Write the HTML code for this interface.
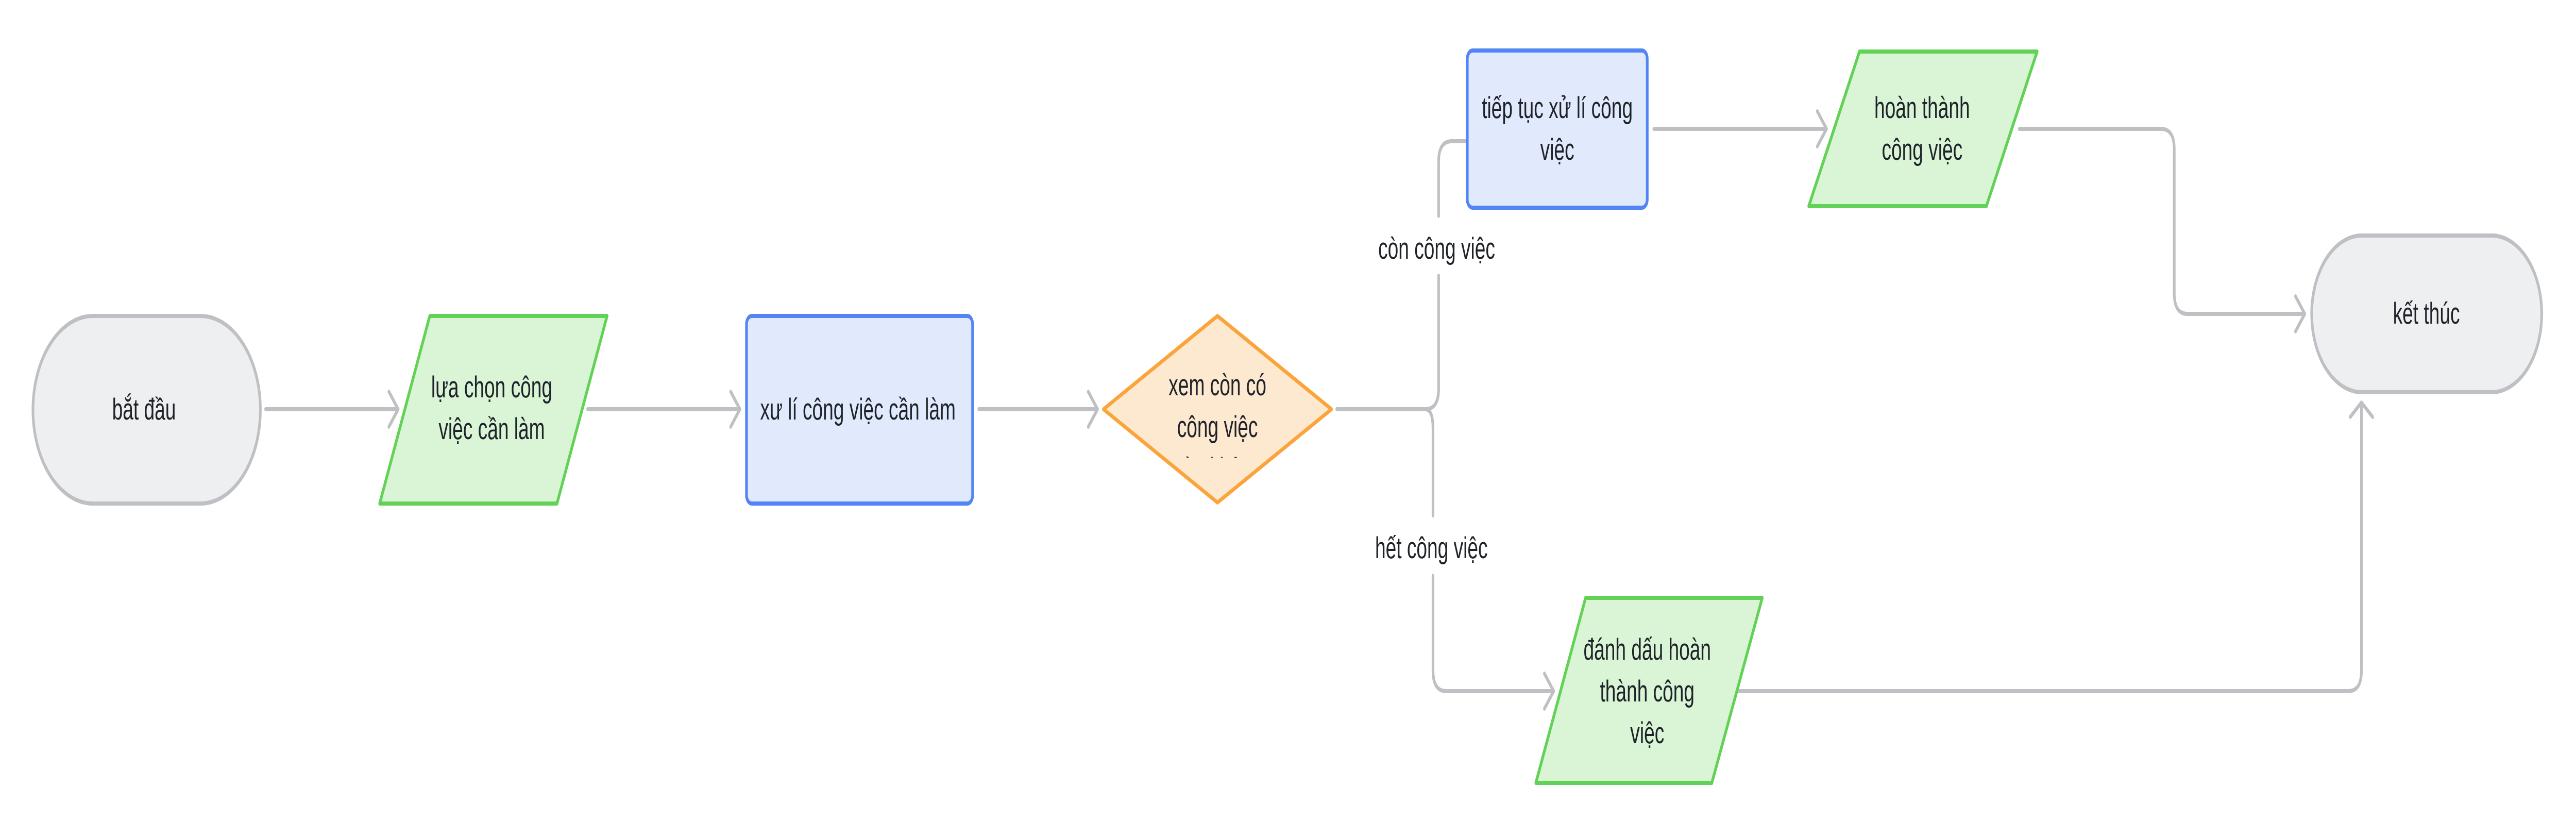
<!DOCTYPE html>
<html><head><meta charset="utf-8"><style>
html,body{margin:0;padding:0;background:#fff;width:100%;height:100%;overflow:hidden}
svg{display:block;width:100vw;height:100vh}
text{font-family:"Liberation Sans",sans-serif;font-size:58px;fill:#1f2329;text-anchor:middle}
</style></head><body>
<svg viewBox="0 0 7816 1624" preserveAspectRatio="none" xmlns="http://www.w3.org/2000/svg">
<defs><clipPath id="dc"><rect x="3348" y="600" width="700" height="288"/></clipPath></defs>
<g fill="none" stroke="#bec0c4" stroke-width="8" stroke-linecap="round" stroke-linejoin="round">
<line x1="806" y1="794" x2="1206" y2="794"/><polyline points="1180,760 1208,794 1180,828"/>
<line x1="1783" y1="794" x2="2243" y2="794"/><polyline points="2217,760 2245,794 2217,828"/>
<line x1="2970" y1="794" x2="3328" y2="794"/><polyline points="3302,760 3330,794 3302,828"/>
<path d="M4056 794 H4325 Q4365 794 4365 754 V535"/>
<path d="M4365 419 V314 Q4365 274 4405 274 H4448"/>
<path d="M4325 794 Q4348 794 4348 834 V1000"/>
<path d="M4348 1117 V1301 Q4348 1341 4388 1341 H4712"/><polyline points="4686,1307 4714,1341 4686,1375"/>
<line x1="5018" y1="250" x2="5540" y2="250"/><polyline points="5514,216 5542,250 5514,284"/>
<path d="M6127 250 H6557 Q6597 250 6597 290 V569 Q6597 609 6637 609 H6991"/><polyline points="6965,575 6993,609 6965,643"/>
<path d="M5230 1341 H7125 Q7165 1341 7165 1301 V783"/><polyline points="7131,809 7165,781 7199,809"/>
</g>
<rect x="100" y="613" width="690" height="364" rx="182" ry="182" fill="#eeeff1" stroke="#bec0c4" stroke-width="8"/>
<polygon points="1304,613 1842,613 1690,977 1152,977" fill="#d9f5d6" stroke="#62d257" stroke-width="8" stroke-linejoin="round"/>
<rect x="2265" y="613" width="686" height="364" rx="16" fill="#e1e9fd" stroke="#5384f5" stroke-width="8"/>
<polygon points="3348,794 3694,613 4040,794 3694,975" fill="#fde8d0" stroke="#fba43c" stroke-width="8" stroke-linejoin="round"/>
<rect x="4452" y="98" width="546" height="305" rx="16" fill="#e1e9fd" stroke="#5384f5" stroke-width="8"/>
<polygon points="5642,100 6181,100 6027,400 5488,400" fill="#d9f5d6" stroke="#62d257" stroke-width="8" stroke-linejoin="round"/>
<rect x="7014" y="457" width="698" height="304" rx="152" ry="152" fill="#eeeff1" stroke="#bec0c4" stroke-width="8"/>
<polygon points="4811,1160 5347,1160 5194,1519 4660,1519" fill="#d9f5d6" stroke="#62d257" stroke-width="8" stroke-linejoin="round"/>
<text x="437" y="814">bắt đầu</text>
<text x="1492" y="771">lựa chọn công</text>
<text x="1492" y="852">việc cần làm</text>
<text x="2603" y="814">xư lí công việc cần làm</text>
<g clip-path="url(#dc)">
<text x="3694" y="767">xem còn có</text>
<text x="3694" y="848">công việc</text>
<text x="3694" y="929">nào không</text>
</g>
<text x="4725" y="229">tiếp tục xử lí công</text>
<text x="4725" y="310">việc</text>
<text x="5832" y="229">hoàn thành</text>
<text x="5832" y="310">công việc</text>
<text x="7362" y="628">kết thúc</text>
<text x="4998" y="1280">đánh dấu hoàn</text>
<text x="4998" y="1361">thành công</text>
<text x="4998" y="1442">việc</text>
<text x="4359" y="502">còn công việc</text>
<text x="4343" y="1083">hết công việc</text>
</svg>
</body></html>
